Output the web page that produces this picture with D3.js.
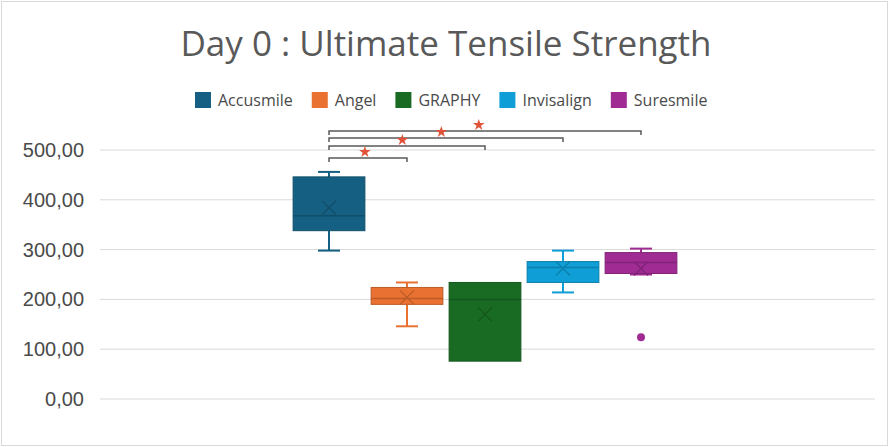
<!DOCTYPE html>
<html>
<head>
<meta charset="utf-8">
<script src="https://cdn.jsdelivr.net/npm/d3@7"></script>
<style>
  body { margin: 0; background: #fff; }
  text { font-family: "Open Sans", "Noto Sans", sans-serif; }
</style>
</head>
<body>
<div id="chart"></div>
<script>
const seriesNames = ['Accusmile', 'Angel', 'GRAPHY', 'Invisalign', 'Suresmile']
const whiskerLow  = [298, 146, 76, 214, 250]
const q1Values    = [338, 190, 76, 234, 252]
const medians     = [368, 202, 200, 264, 274]
const q3Values    = [446, 224, 234, 276, 294]
const whiskerHigh = [456, 234, 234, 298, 302]
const means       = [384, 204, 170, 262, 262]
const outliers    = [[], [], [], [], [124]]
const yTicks = [0, 100, 200, 300, 400, 500]
// significance brackets: pairs compared with Accusmile
const brackets = [[0, 4], [0, 3], [0, 2], [0, 1]]
const color = ['#156082', '#E97132', '#196B24', '#0F9ED5', '#A02B93']

var chart_width  = 889;
var chart_height = 447;
var plot = { left: 100, right: 875, top: 150, bottom: 399 };

var svg = d3.select('#chart')
    .append('svg')
    .attr('width', chart_width)
    .attr('height', chart_height);

svg.append('rect')
    .attr('x', 1.5).attr('y', 1.5)
    .attr('width', chart_width - 3).attr('height', chart_height - 3)
    .attr('fill', '#fff').attr('stroke', '#d9d9d9');

const y_scale = d3.scaleLinear()
    .domain([0, 500])
    .range([plot.bottom, plot.top]);

const x_scale = d3.scaleBand()
    .domain(d3.range(seriesNames.length))
    .range([290, 680])
    .paddingInner(0.08)
    .paddingOuter(0.04);

// title
svg.append('text')
    .attr('x', 446)
    .attr('y', 56)
    .attr('text-anchor', 'middle')
    .attr('font-size', 35)
    .attr('fill', '#595959')
    .text('Day 0 : Ultimate Tensile Strength');

// legend
var legend = svg.append('g').attr('transform', 'translate(195, 92)');
var lx = 0;
seriesNames.forEach(function(name, i) {
    var g = legend.append('g').attr('transform', 'translate(' + lx + ',0)');
    g.append('rect').attr('width', 16).attr('height', 16).attr('fill', color[i]);
    var t = g.append('text')
        .attr('x', 23).attr('y', 14)
        .attr('font-size', 16)
        .attr('fill', '#4a4a4a')
        .text(name);
    lx += 23 + t.node().getComputedTextLength() + 19;
});

// grid + y axis labels
svg.selectAll('line.grid')
    .data(yTicks)
    .enter()
    .append('line')
    .attr('class', 'grid')
    .attr('x1', plot.left).attr('x2', plot.right)
    .attr('y1', d => y_scale(d)).attr('y2', d => y_scale(d))
    .attr('stroke', '#d9d9d9')
    .attr('stroke-width', 1);

svg.selectAll('text.ytick')
    .data(yTicks)
    .enter()
    .append('text')
    .attr('class', 'ytick')
    .attr('x', 84)
    .attr('y', d => y_scale(d) + 7)
    .attr('text-anchor', 'end')
    .attr('font-size', 20)
    .attr('fill', '#4a4a4a')
    .style('font-family', '"Liberation Sans", Arial, sans-serif')
    .text(d => d.toFixed(2).replace('.', ','));

// boxes
var bw = x_scale.bandwidth();
var boxes = svg.selectAll('g.box')
    .data(seriesNames)
    .enter()
    .append('g')
    .attr('class', 'box')
    .attr('transform', (d, i) => 'translate(' + x_scale(i) + ',0)');

boxes.each(function(d, i) {
    var g = d3.select(this);
    var cx = bw / 2;
    var c = color[i];
    var dark = d3.color(c).darker(0.6);
    // whiskers (skipped where they coincide with the box edge)
    if (whiskerHigh[i] > q3Values[i]) {
        g.append('line').attr('x1', cx).attr('x2', cx)
            .attr('y1', y_scale(whiskerHigh[i])).attr('y2', y_scale(q3Values[i]))
            .attr('stroke', c).attr('stroke-width', 2);
        g.append('line').attr('x1', cx - 11).attr('x2', cx + 11)
            .attr('y1', y_scale(whiskerHigh[i])).attr('y2', y_scale(whiskerHigh[i]))
            .attr('stroke', c).attr('stroke-width', 2);
    }
    if (whiskerLow[i] < q1Values[i]) {
        g.append('line').attr('x1', cx).attr('x2', cx)
            .attr('y1', y_scale(q1Values[i])).attr('y2', y_scale(whiskerLow[i]))
            .attr('stroke', c).attr('stroke-width', 2);
        g.append('line').attr('x1', cx - 11).attr('x2', cx + 11)
            .attr('y1', y_scale(whiskerLow[i])).attr('y2', y_scale(whiskerLow[i]))
            .attr('stroke', c).attr('stroke-width', 2);
    }
    // box
    g.append('rect')
        .attr('x', 0).attr('width', bw)
        .attr('y', y_scale(q3Values[i]))
        .attr('height', y_scale(q1Values[i]) - y_scale(q3Values[i]))
        .attr('fill', c).attr('stroke', dark).attr('stroke-width', 1);
    // median
    g.append('line').attr('x1', 0).attr('x2', bw)
        .attr('y1', y_scale(medians[i])).attr('y2', y_scale(medians[i]))
        .attr('stroke', dark).attr('stroke-width', 1.5);
    // mean X
    var my = y_scale(means[i]);
    g.append('path')
        .attr('d', 'M' + (cx - 7) + ',' + (my - 7) + 'L' + (cx + 7) + ',' + (my + 7) +
                   'M' + (cx - 7) + ',' + (my + 7) + 'L' + (cx + 7) + ',' + (my - 7))
        .attr('stroke', dark).attr('stroke-width', 1.3).attr('fill', 'none');
    // outliers
    g.selectAll('circle')
        .data(outliers[i])
        .enter()
        .append('circle')
        .attr('cx', cx).attr('cy', v => y_scale(v))
        .attr('r', 4).attr('fill', c);
});

// significance brackets
var bracketY = [131, 138, 146, 158];
var starFrac = [0.48, 0.48, 0.47, 0.46];
brackets.forEach(function(pair, k) {
    var x1 = x_scale(pair[0]) + bw / 2;
    var x2 = x_scale(pair[1]) + bw / 2;
    var yb = bracketY[k];
    svg.append('path')
        .attr('d', 'M' + x1 + ',' + (yb + 4) + 'V' + yb + 'H' + x2 + 'V' + (yb + 4))
        .attr('fill', 'none').attr('stroke', '#595959').attr('stroke-width', 1.5);
    svg.append('path')
        .attr('d', d3.symbol(d3.symbolStar, 42)())
        .attr('transform', 'translate(' + (x1 + (x2 - x1) * starFrac[k]) + ',' + (yb - 6) + ')')
        .attr('fill', '#E0533A');
});
</script>
</body>
</html>
